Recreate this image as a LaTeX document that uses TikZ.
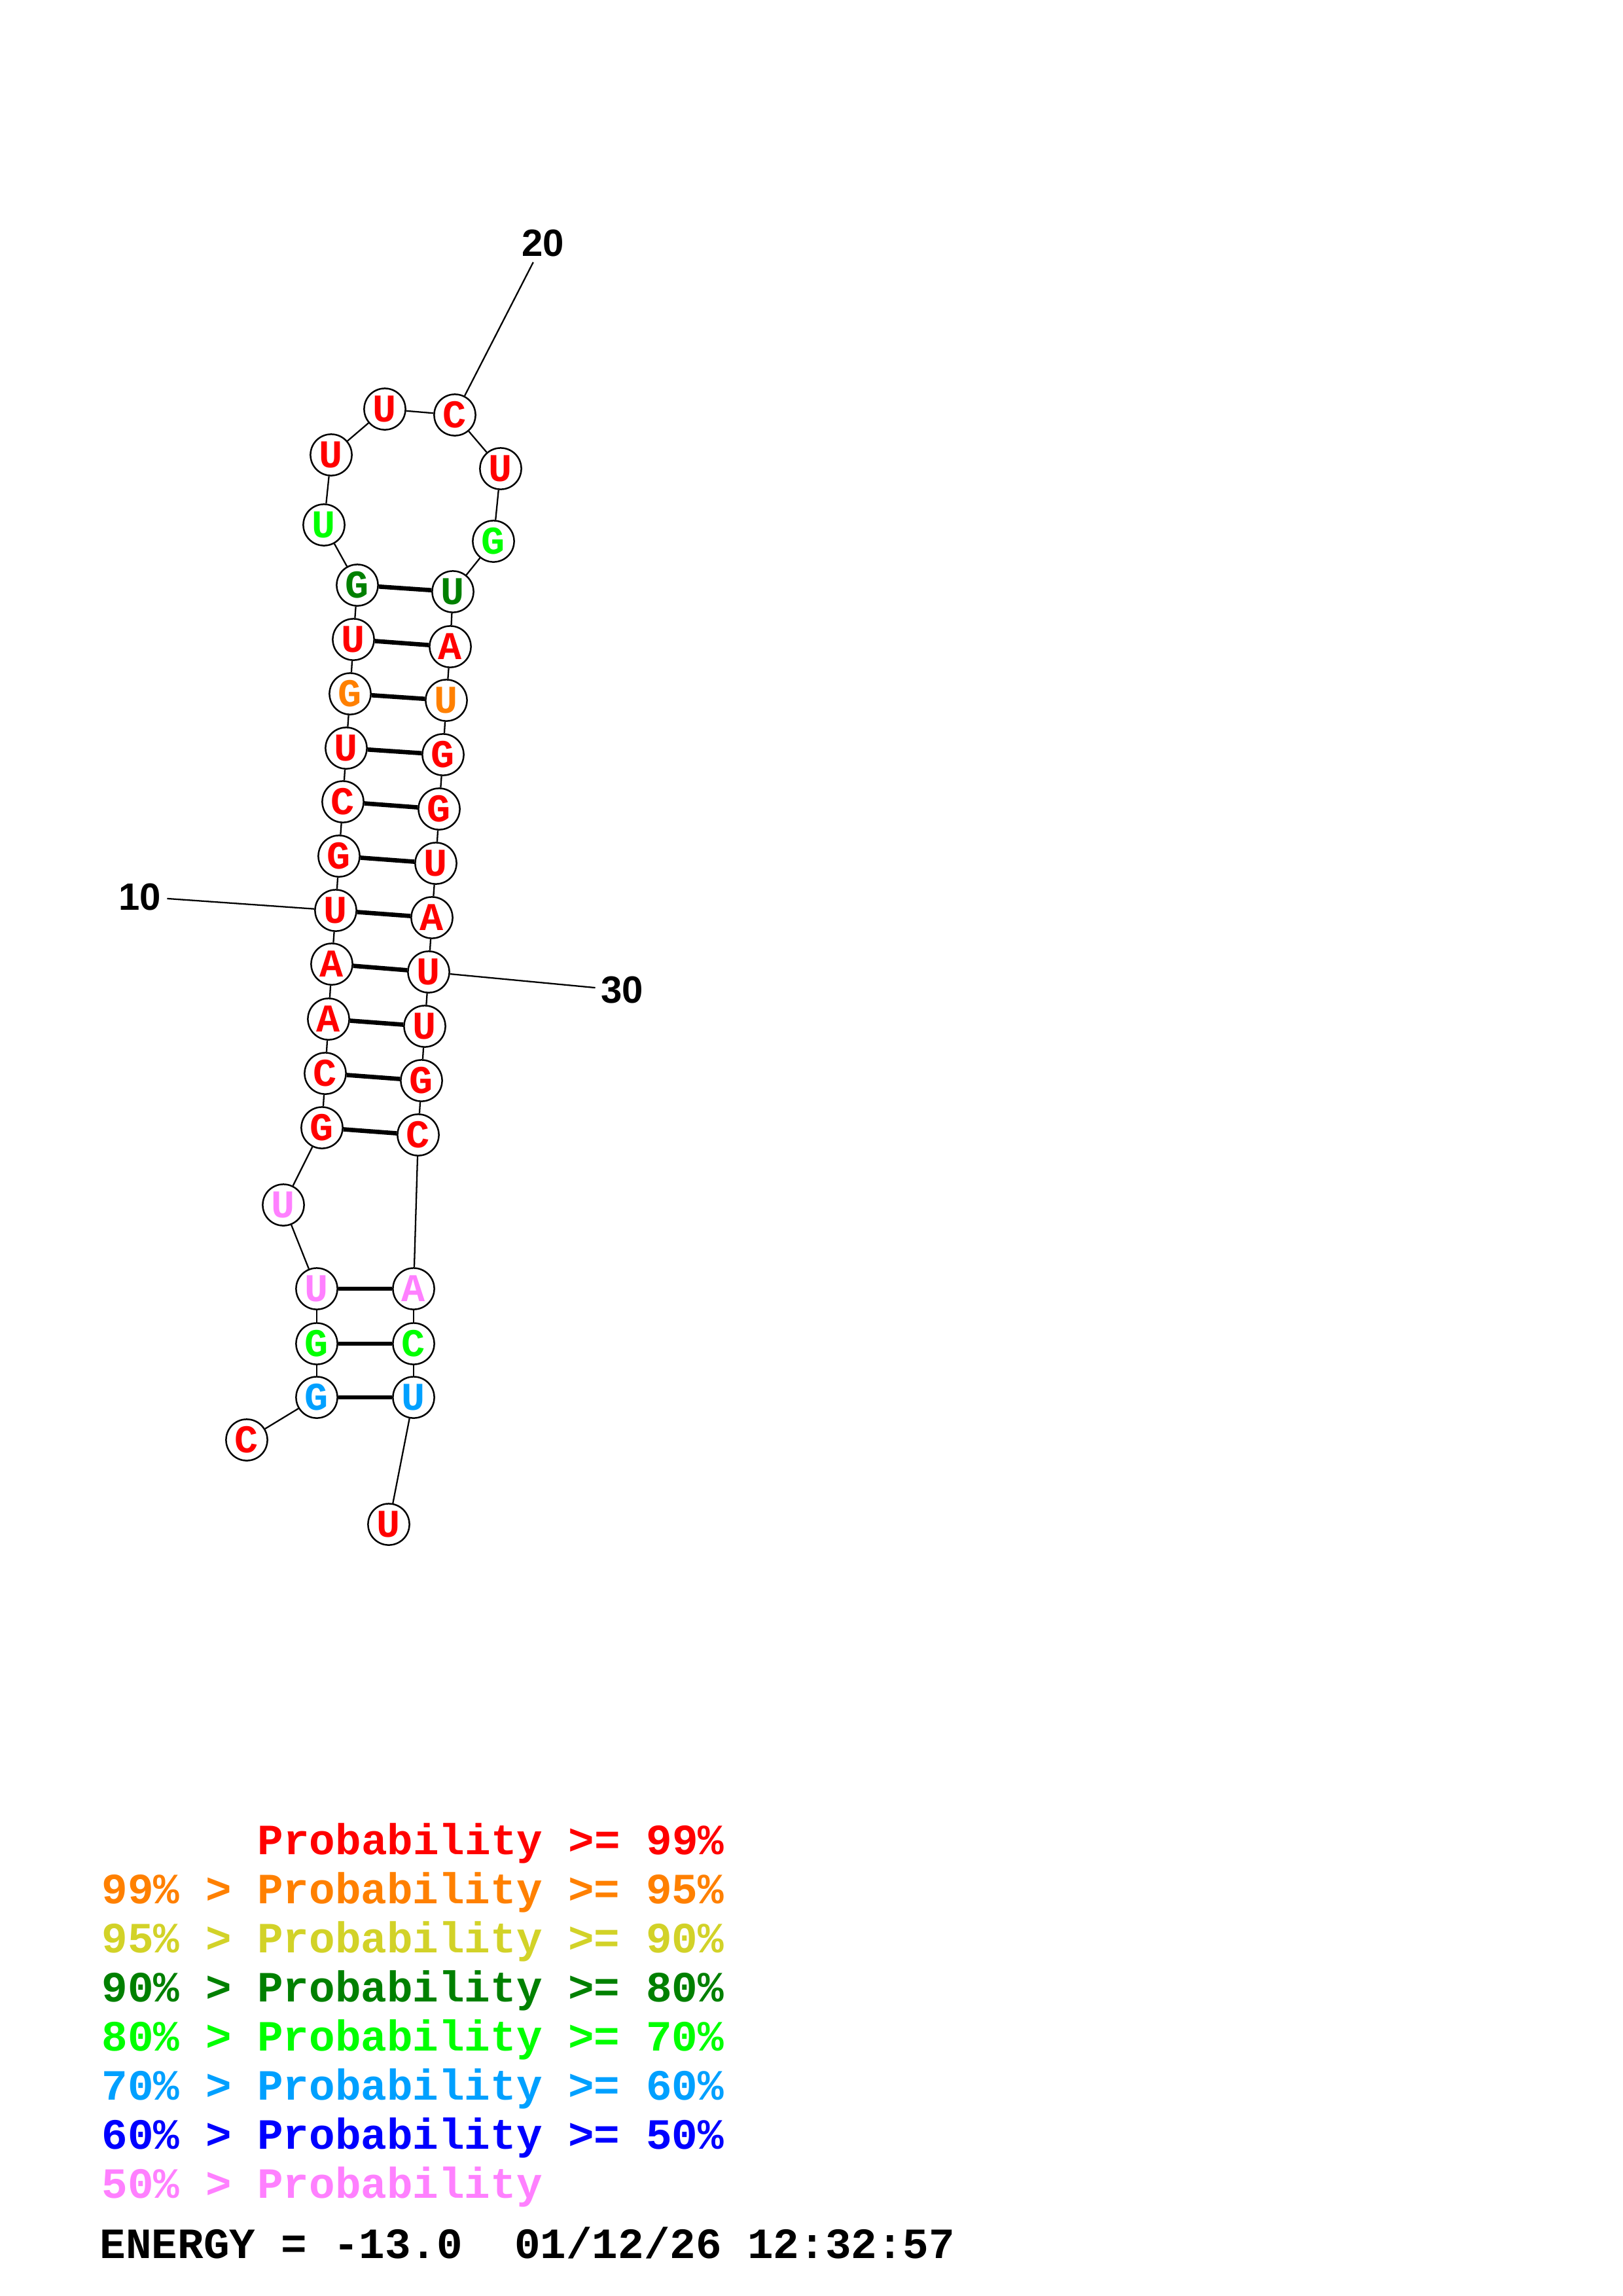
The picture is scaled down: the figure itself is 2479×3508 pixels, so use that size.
\documentclass[tikz,border=0pt]{standalone}
\definecolor{prred}{RGB}{255,0,0}
\definecolor{prorange}{RGB}{255,128,0}
\definecolor{pryellow}{RGB}{210,210,40}
\definecolor{prdgreen}{RGB}{0,128,0}
\definecolor{prgreen}{RGB}{0,255,0}
\definecolor{prsky}{RGB}{0,160,255}
\definecolor{prblue}{RGB}{0,0,255}
\definecolor{prpink}{RGB}{255,128,255}
\usepackage{fontspec}
\usepackage{tikz}
\setmonofont{Liberation Mono}
\newfontfamily\numfont{Liberation Sans}

\begin{document}
\begin{tikzpicture}[x=0.08471mm, y=-0.08471mm,
    nt/.style={circle, draw, line width=0.6pt, fill=white, minimum size=5.35mm,
      inner sep=0pt, font=\fontsize{14.5}{14.5}\selectfont\ttfamily\bfseries},
    numlab/.style={inner sep=2pt, font=\fontsize{14}{14}\selectfont\numfont\bfseries},
    legend/.style={anchor=base west, inner sep=0pt,
      font=\fontsize{15.9}{18}\selectfont\ttfamily\bfseries}]
  \useasboundingbox (0,0) rectangle (2479,3508);

  % bases
  \foreach \i/\x/\y/\b/\c in {
      1/377/2200/C/prred, 2/484/2135/G/prsky, 3/484/2053/G/prgreen,
      4/484/1969/U/prpink, 5/433/1841/U/prpink, 6/492/1723/G/prred,
      7/497/1640/C/prred, 8/502/1557/A/prred, 9/507/1473/A/prred,
      10/513/1391/U/prred, 11/518/1308/G/prred, 12/524/1225/C/prred,
      13/529/1143/U/prred, 14/535/1060/G/prorange, 15/540/977/U/prred,
      16/546/894/G/prdgreen, 17/495/802/U/prgreen, 18/506/695/U/prred,
      19/588/625/U/prred, 20/695/634/C/prred, 21/765/716/U/prred,
      22/754/827/G/prgreen, 23/692/904/U/prdgreen, 24/688/988/A/prred,
      25/682/1070/U/prorange, 26/677/1153/G/prred, 27/671/1236/G/prred,
      28/666/1319/U/prred, 29/660/1402/A/prred, 30/655/1485/U/prred,
      31/649/1568/U/prred, 32/644/1651/G/prred, 33/639/1734/C/prred,
      34/632/1969/A/prpink, 35/632/2053/C/prgreen, 36/632/2135/U/prsky,
      37/594/2329/U/prred}
    \node[nt, text=\c] (n\i) at (\x,\y) {\b};

  % backbone and pairs
  \foreach \i [evaluate=\i as \j using int(\i+1)] in {1,...,36}
    \draw[line width=0.55pt] (n\i) -- (n\j);
  \foreach \a/\b in {2/36, 3/35, 4/34, 6/33, 7/32, 8/31, 9/30, 10/29,
      11/28, 12/27, 13/26, 14/25, 15/24, 16/23}
    \draw[line width=1.6pt] (n\a) -- (n\b);

  % numbering
  \node[numlab] (l10) at (214,1370) {10};
  \node[numlab] (l20) at (830,371) {20};
  \node[numlab] (l30) at (951,1513) {30};
  \draw[line width=0.55pt] (l10) -- (n10);
  \draw[line width=0.55pt] (l20) -- (n20);
  \draw[line width=0.55pt] (l30) -- (n30);

  % legend
  \node[legend, text=prred] (leg1) at (393,2833) {Probability >= 99\%};
  \node[legend, text=prorange] (leg2) at (155,2908) {99\% > Probability >= 95\%};
  \node[legend, text=pryellow] (leg3) at (155,2983) {95\% > Probability >= 90\%};
  \node[legend, text=prdgreen] (leg4) at (155,3058) {90\% > Probability >= 80\%};
  \node[legend, text=prgreen] (leg5) at (155,3133) {80\% > Probability >= 70\%};
  \node[legend, text=prsky] (leg6) at (155,3208) {70\% > Probability >= 60\%};
  \node[legend, text=prblue] (leg7) at (155,3283) {60\% > Probability >= 50\%};
  \node[legend, text=prpink] (leg8) at (155,3358) {50\% > Probability};
  \node[legend] (energy) at (152,3450) {ENERGY = -13.0\ \ 01/12/26 12:32:57};
\end{tikzpicture}
\end{document}
